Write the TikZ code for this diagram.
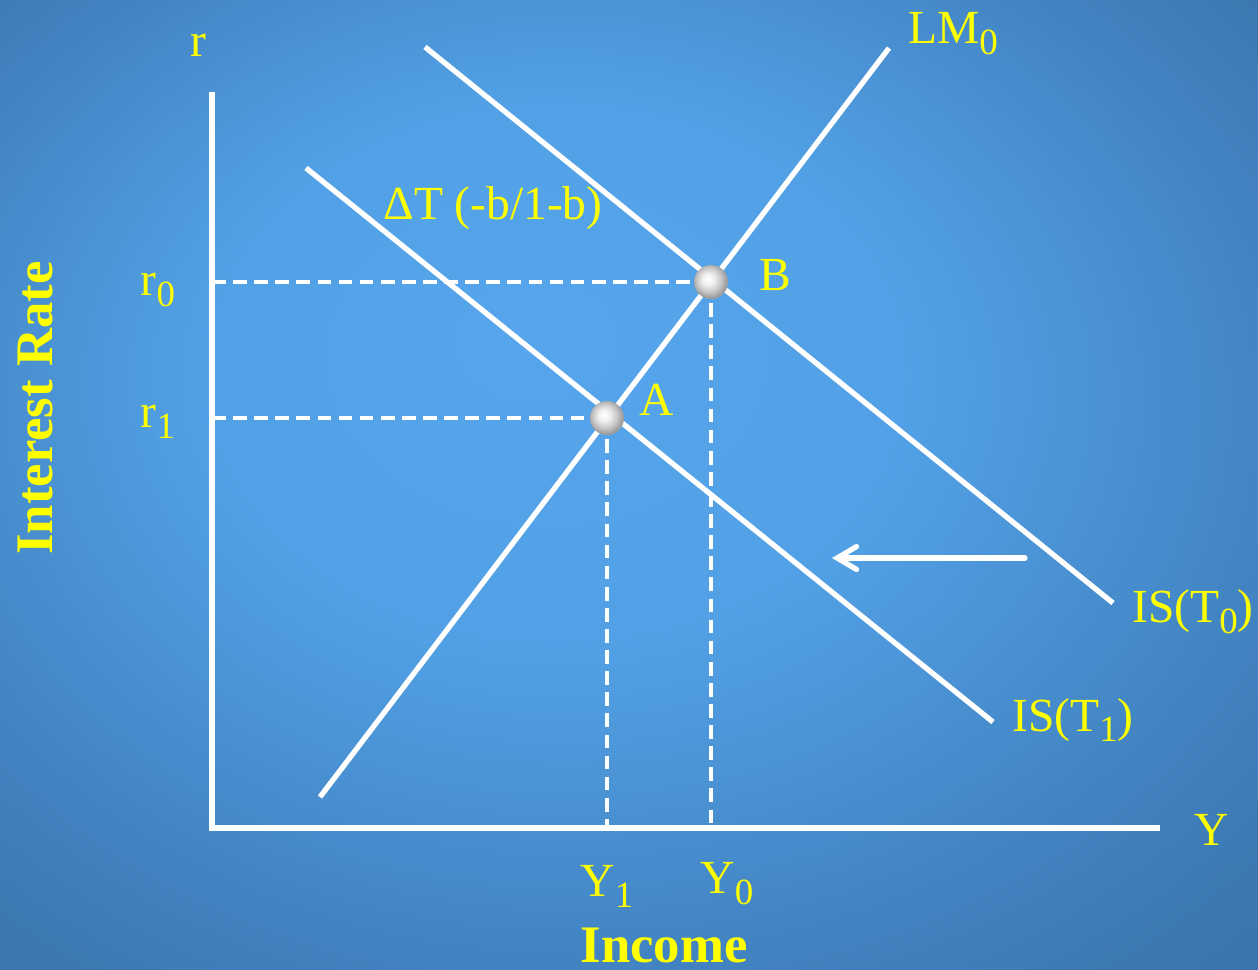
\documentclass[tikz,border=0pt]{standalone}
\usepackage{fontspec}
\setmainfont{Liberation Serif}
\usetikzlibrary{arrows.meta}
\definecolor{ylabel}{RGB}{255,255,0}
\newcommand\lowsub[1]{\raisebox{-0.5ex}{\fontsize{10.5}{11}\selectfont #1}}
\pgfdeclareradialshading{slidebg}{\pgfpoint{-4bp}{8bp}}{rgb(0bp)=(0.34,0.65,0.93);rgb(14bp)=(0.32,0.63,0.9);rgb(30bp)=(0.25,0.5,0.74);rgb(50bp)=(0.18,0.38,0.56)}
\pgfdeclareradialshading{pearl}{\pgfpoint{-5bp}{5bp}}{rgb(0bp)=(1,1,1);rgb(8bp)=(0.95,0.95,0.95);rgb(18bp)=(0.78,0.78,0.78);rgb(25bp)=(0.62,0.62,0.62);rgb(50bp)=(0.62,0.62,0.62)}
\tikzset{
  econline/.style={white,line width=1.5pt},
  guide/.style={white,line width=1.4pt,dash pattern=on 3.9pt off 2.1pt},
  dot/.style={circle,inner sep=0pt,minimum size=0.34cm,shade,shading=pearl},
  lbl/.style={text=ylabel,font=\fontsize{13.5}{15}\selectfont,inner sep=0pt},
  axistitle/.style={text=ylabel,font=\fontsize{15}{17}\selectfont\bfseries,inner sep=0pt}
}
\begin{document}
\begin{tikzpicture}[x=0.01cm,y=-0.01cm]
	\useasboundingbox (0,0) rectangle (1258,969);
	\shade[shading=slidebg] (0,0) rectangle (1258,969);

	% axes
	\coordinate (ytop) at (212,92);
	\coordinate (o) at (212,828);
	\coordinate (xend) at (1160,828);
	\draw[econline] (ytop) -- (o) -- (xend);

	% curves
	\coordinate (lm1) at (320,797);
	\coordinate (lm2) at (889,48);
	\coordinate (is01) at (425,47);
	\coordinate (is02) at (1113,603);
	\coordinate (is11) at (306,168);
	\coordinate (is12) at (993,722);
	\draw[econline] (lm1) -- (lm2);
	\draw[econline] (is01) -- (is02);
	\draw[econline] (is11) -- (is12);

	% equilibria
	\coordinate (pA) at (607,418);
	\coordinate (pB) at (711,282);
	\draw[guide] (o |- pB) -- (pB);
	\draw[guide] (o |- pA) -- (pA);
	\draw[guide] (pB) -- (pB |- o);
	\draw[guide] (pA) -- (pA |- o);
	\coordinate (xdash) at (870,828);
	\draw[guide] (pA |- o) -- (xdash);
	\node[dot] (A) at (pA) {};
	\node[dot] (B) at (pB) {};

	% shift
	\coordinate (shs) at (1025,558);
	\coordinate (she) at (832,558);
	\draw[econline,line cap=round,-{Straight Barb[length=5.5pt,width=6.5pt,line cap=round]}] (shs) -- (she);

	% labels
	\node[lbl] (lblr) at (198,45) {r};
	\node[lbl] (lblLM) at (953,34) {LM\lowsub{0}};
	\node[lbl] (lbldT) at (493,208) {ΔT (-b/1-b)};
	\node[lbl] (lblB) at (775,275) {B};
	\node[lbl] (lblA) at (657,400) {A};
	\node[lbl] (lblr0) at (158,290) {r\lowsub{0}};
	\node[lbl] (lblr1) at (158,422) {r\lowsub{1}};
	\node[lbl] (lblIS0) at (1193,612) {IS(T\lowsub{0})};
	\node[lbl] (lblIS1) at (1073,720) {IS(T\lowsub{1})};
	\node[lbl] (lblY) at (1212,830) {Y};
	\node[lbl] (lblY1) at (607,886) {Y\lowsub{1}};
	\node[lbl] (lblY0) at (727,884) {Y\lowsub{0}};
	\node[axistitle] (lblinc) at (664,945) {Income};
	\node[axistitle,rotate=90] (lblint) at (35,408) {Interest Rate};
\end{tikzpicture}
\end{document}
